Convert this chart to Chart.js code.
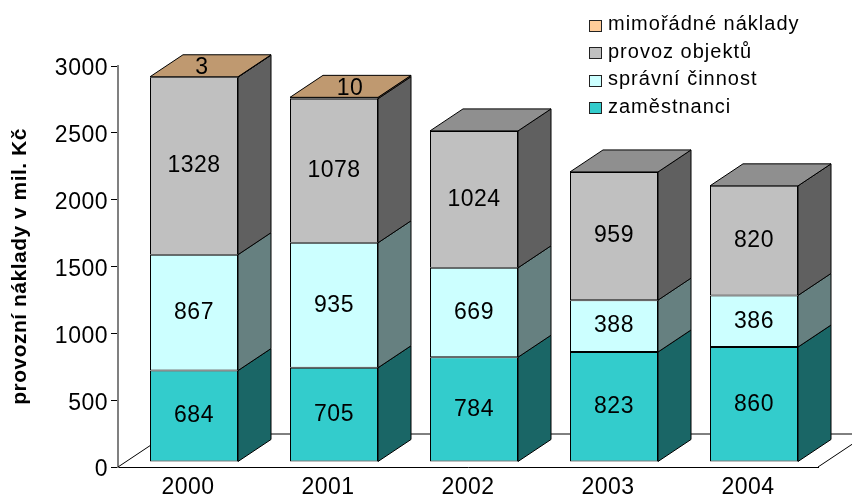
<!DOCTYPE html>
<html lang="cs">
<head>
<meta charset="utf-8">
<title>Provozní náklady</title>
<script src="https://cdn.jsdelivr.net/npm/chart.js@4/dist/chart.umd.min.js"></script>
<style>
	html, body { margin: 0; background: #fff; }
	canvas { display: block; }
</style>
</head>
<body>
<canvas id="chart" width="852" height="494"></canvas>
<script>
const years = ['2000', '2001', '2002', '2003', '2004'];
const zamestnanci = [684, 705, 784, 823, 860];
const spravniCinnost = [867, 935, 669, 388, 386];
const provozObjektu = [1328, 1078, 1024, 959, 820];
const mimoradneNaklady = [3, 10, null, null, null];
const yTicks = [0, 500, 1000, 1500, 2000, 2500, 3000];

const FONT = '"Liberation Sans", Arial, sans-serif';
const DEPTH_X = 33;
const DEPTH_Y = 22;
const SHIFT_X = 6;
const SHIFT_Y = -5;

// front, side and top colours of the boxes
const shades = [
	{ front: '#33cccc', side: '#1a6666', top: '#269999' },
	{ front: '#ccffff', side: '#668080', top: '#99bfbf' },
	{ front: '#c0c0c0', side: '#606060', top: '#8f8f8f' },
	{ front: '#ffcc99', side: '#806650', top: '#bf9970' },
];

const poly = (ctx, points, fill) => {
	ctx.beginPath();
	points.forEach((p, i) => (i ? ctx.lineTo(p[0], p[1]) : ctx.moveTo(p[0], p[1])));
	ctx.closePath();
	ctx.fillStyle = fill;
	ctx.fill();
	ctx.stroke();
};

const box3d = {
	id: 'box3d',
	beforeDraw(chart) {
		chart.ctx.letterSpacing = '0.5px';
	},
	beforeDatasetsDraw(chart) {
		const ctx = chart.ctx;
		const { left, right, bottom } = chart.chartArea;
		ctx.save();
		// floor
		ctx.strokeStyle = '#000';
		ctx.lineWidth = 1;
		ctx.beginPath();
		ctx.moveTo(left, bottom);
		ctx.lineTo(left + DEPTH_X * 1.5, bottom - DEPTH_Y * 1.5);
		ctx.lineTo(chart.width, bottom - DEPTH_Y * 1.5);
		ctx.moveTo(right, bottom);
		ctx.lineTo(right + DEPTH_X * 1.5, bottom - DEPTH_Y * 1.5);
		ctx.stroke();

		ctx.translate(SHIFT_X, SHIFT_Y);
		years.forEach((year, j) => {
			let topIndex = 0;
			chart.data.datasets.forEach((ds, i) => {
				if (ds.data[j] === null) return;
				topIndex = i;
				const bar = chart.getDatasetMeta(i).data[j];
				const r = bar.x + bar.width / 2;
				poly(ctx, [
					[r, bar.y],
					[r + DEPTH_X, bar.y - DEPTH_Y],
					[r + DEPTH_X, bar.base - DEPTH_Y],
					[r, bar.base],
				], shades[i].side);
			});
			const bar = chart.getDatasetMeta(topIndex).data[j];
			const l = bar.x - bar.width / 2;
			const r = bar.x + bar.width / 2;
			poly(ctx, [
				[l, bar.y],
				[l + DEPTH_X, bar.y - DEPTH_Y],
				[r + DEPTH_X, bar.y - DEPTH_Y],
				[r, bar.y],
			], shades[topIndex].top);
		});
		ctx.restore();
		ctx.save();
		ctx.translate(SHIFT_X, SHIFT_Y);
	},
	afterDatasetsDraw(chart) {
		const ctx = chart.ctx;
		ctx.restore();
		ctx.save();
		ctx.translate(SHIFT_X, SHIFT_Y);
		ctx.fillStyle = '#000';
		ctx.font = `23px ${FONT}`;
		ctx.textAlign = 'center';
		ctx.textBaseline = 'middle';
		chart.data.datasets.forEach((ds, i) => {
			chart.getDatasetMeta(i).data.forEach((bar, j) => {
				const value = ds.data[j];
				if (value === null) return;
				if (i === 3) {
					// thin top series: the number sits on the lid of the box
					ctx.fillText(value, bar.x + (j === 0 ? 8 : 16), bar.y - 9);
				} else {
					ctx.fillText(value, bar.x, (bar.y + bar.base) / 2);
				}
			});
		});
		ctx.restore();
	},
	afterDraw(chart) {
		const ctx = chart.ctx;
		ctx.save();
		ctx.letterSpacing = '1px';
		ctx.font = `20px ${FONT}`;
		ctx.textBaseline = 'middle';
		ctx.strokeStyle = '#222';
		ctx.lineWidth = 1;
		chart.data.datasets.slice().reverse().forEach((ds, k) => {
			const y = 25.5 + k * 27.5;
			ctx.fillStyle = ds.backgroundColor;
			ctx.fillRect(589.5, Math.round(y - 5) - 0.5, 12, 11);
			ctx.strokeRect(589.5, Math.round(y - 5) - 0.5, 12, 11);
			ctx.fillStyle = '#000';
			ctx.fillText(ds.label, 608, y - 1);
		});
		ctx.restore();
	},
};

new Chart(document.getElementById('chart'), {
	type: 'bar',
	data: {
		labels: years,
		datasets: [
			{ label: 'zaměstnanci', data: zamestnanci, backgroundColor: shades[0].front },
			{ label: 'správní činnost', data: spravniCinnost, backgroundColor: shades[1].front },
			{ label: 'provoz objektů', data: provozObjektu, backgroundColor: shades[2].front },
			{ label: 'mimořádné náklady', data: mimoradneNaklady, backgroundColor: shades[3].front },
		],
	},
	options: {
		responsive: false,
		animation: false,
		layout: { padding: { top: 66, right: 34, left: 0, bottom: 0 } },
		datasets: {
			bar: {
				barPercentage: 1,
				categoryPercentage: 88 / 140,
				borderColor: '#000',
				borderWidth: 1,
				borderSkipped: false,
			},
		},
		plugins: {
			legend: { display: false },
			tooltip: { enabled: false },
		},
		scales: {
			x: {
				stacked: true,
				grid: { display: false, drawTicks: false },
				border: { color: '#000', width: 1 },
				ticks: { color: '#000', padding: 7, maxRotation: 0, font: { family: FONT, size: 23 } },
				afterFit: (scale) => { scale.height = 27; },
			},
			y: {
				stacked: true,
				min: 0,
				max: 3000,
				afterBuildTicks: (scale) => { scale.ticks = yTicks.map((value) => ({ value })); },
				grid: { drawOnChartArea: false, tickLength: 7, tickColor: '#000' },
				border: { color: '#808080', width: 2 },
				ticks: {
					color: '#000',
					padding: 3,
					labelOffset: 3,
					font: { family: FONT, size: 23 },
					callback: (value) => String(value),
				},
				title: {
					display: true,
					text: 'provozní náklady v mil. Kč',
					color: '#000',
					padding: { top: 8, bottom: 0 },
					font: { family: FONT, size: 21, weight: 'bold' },
				},
				afterFit: (scale) => { scale.width = 118; },
			},
		},
	},
	plugins: [box3d],
});
</script>
</body>
</html>
